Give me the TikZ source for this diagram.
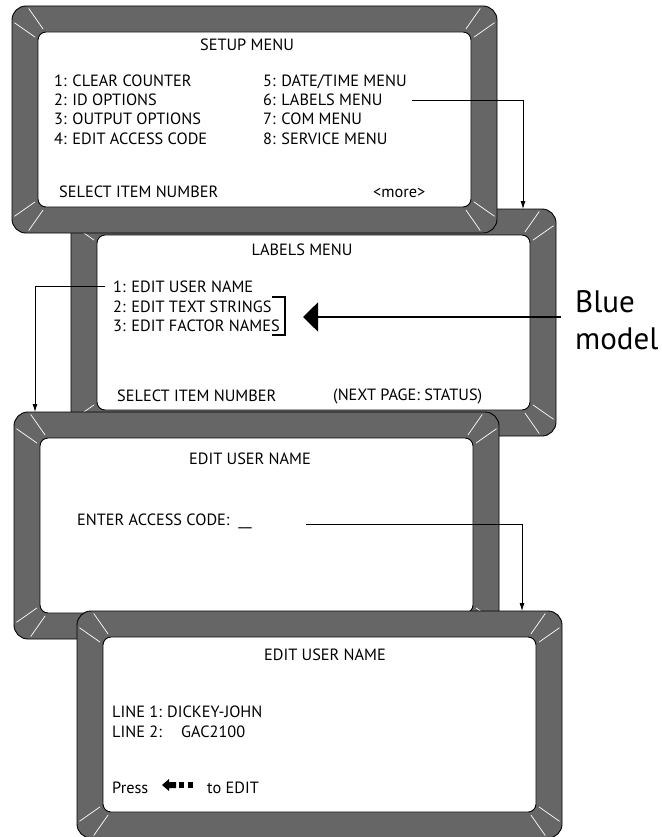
\documentclass[tikz,border=0pt]{standalone}
\usepackage{fontspec}
\setmainfont{PT Sans}
\usepackage{tikz}
\usetikzlibrary{arrows.meta}
\definecolor{bezel}{HTML}{666666}
\tikzset{
  screen/.pic={
    \draw[fill=bezel, line width=0.9pt, rounded corners=14pt] (0,0) rectangle (485,227);
    \draw[fill=white, line width=0.9pt, rounded corners=8pt] (26,26) rectangle (459,201);
    % glare strokes in the corners
    \foreach \cx/\cy/\ang in {50/50/225, 435/50/315, 435/177/45, 50/177/135}
      \foreach \da in {-10,10}
        \draw[white, line width=0.7pt] (\cx,\cy) ++({\ang+\da}:33) -- ++({\ang+\da}:25);
  },
  lcd/.style={font=\fontsize{16.3}{19}\selectfont, inner sep=0pt},
  link/.style={line width=0.8pt, -{Latex[length=8pt,width=5pt]}},
  bigarrow/.style={line width=1.6pt, -{Triangle[length=15pt,width=29pt]}}
}

\begin{document}
\begin{tikzpicture}[x=1pt, y=-1pt]
\useasboundingbox (0,0) rectangle (661,837);
\pic at (71,209) {screen};
\pic at (12,6) {screen};
\pic at (14,412) {screen};
\pic at (77,611) {screen};

% setup menu
\node[lcd, anchor=base] (setup) at (247,51) {SETUP MENU};
\node[lcd, anchor=base west] (s1) at (54,87) {1: CLEAR COUNTER};
\node[lcd, anchor=base west] (s2) at (54,106) {2: ID OPTIONS};
\node[lcd, anchor=base west] (s3) at (54,125) {3: OUTPUT OPTIONS};
\node[lcd, anchor=base west] (s4) at (54,145) {4: EDIT ACCESS CODE};
\node[lcd, anchor=base west] (s5) at (263,87) {5: DATE/TIME MENU};
\node[lcd, anchor=base west] (s6) at (263,106) {6: LABELS MENU};
\node[lcd, anchor=base west] (s7) at (263,125) {7: COM MENU};
\node[lcd, anchor=base west] (s8) at (263,145) {8: SERVICE MENU};
\node[lcd, anchor=base west] (sel1) at (59,197) {SELECT ITEM NUMBER};
\node[lcd, anchor=base west] (more) at (373,197) {<more>};

% labels menu
\node[lcd, anchor=base] (labels) at (302,255) {LABELS MENU};
\node[lcd, anchor=base west] (l1) at (113,292) {1: EDIT USER NAME};
\node[lcd, anchor=base west] (l2) at (113,312) {2: EDIT TEXT STRINGS};
\node[lcd, anchor=base west] (l3) at (113,331) {3: EDIT FACTOR NAMES};
\node[lcd, anchor=base west] (sel2) at (117,401) {SELECT ITEM NUMBER};
\node[lcd, anchor=base west] (next) at (333,400) {(NEXT PAGE: STATUS)};
\draw[line width=1.4pt] (272,297) -- (285,297) -- (285,335) -- (272,335);

% access code
\node[lcd, anchor=base] (edit3) at (250,464) {EDIT USER NAME};
\node[lcd, anchor=base west] (code) at (77,525) {ENTER ACCESS CODE:\hspace{9pt}\_\_};

% user name
\node[lcd, anchor=base] (edit4) at (325,660) {EDIT USER NAME};
\node[lcd, anchor=base west] (line1) at (112,717) {\makebox[55pt][l]{LINE 1:}DICKEY-JOHN};
\node[lcd, anchor=base west] (line2) at (112,737) {\makebox[69pt][l]{LINE 2:}GAC2100};
\node[lcd, anchor=base west] (press) at (112,793) {Press};
\node[lcd, anchor=base west] (toedit) at (207,793) {to EDIT};
\fill (162,785) -- (169,779) -- (169,782) -- (176,782) -- (176,788) -- (169,788) -- (169,791) -- cycle;
\fill (179,782) rectangle (184,788);
\fill (188,782) rectangle (193,788);

% side label
\node[font=\fontsize{31}{37}\selectfont, align=left, anchor=north west, inner sep=0pt] (blue) at (575,290) {Blue\\model};
\coordinate (brk) at (303,317);
\draw[bigarrow] (blue.west |- brk) ++(-14,0) -- (brk);

% connectors
\coordinate (into2) at (523,209);
\coordinate (into3) at (35,412);
\coordinate (into4) at (522,611);
\draw[link] ([xshift=29pt]s6.east) -| (into2);
\draw[link] ([xshift=-8pt]l1.west) -| (into3);
\draw[link] ([xshift=54pt,yshift=1pt]code.base east) -| (into4);
\end{tikzpicture}
\end{document}
